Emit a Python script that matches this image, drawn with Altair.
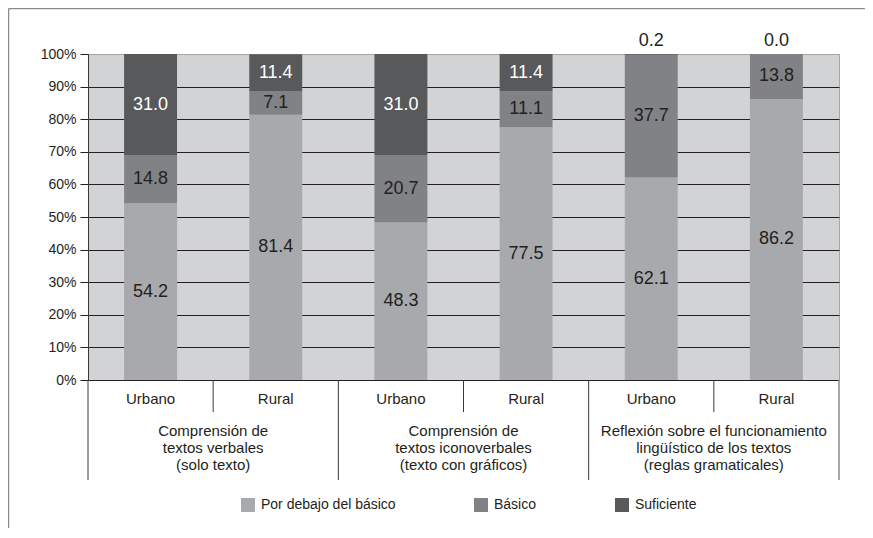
import altair as alt
import pandas as pd

# ---- data ----
groups = [
    "Comprensión de\ntextos verbales\n(solo texto)",
    "Comprensión de\ntextos iconoverbales\n(texto con gráficos)",
    "Reflexión sobre el funcionamiento\nlingüístico de los textos\n(reglas gramaticales)",
]
areas = ["Urbano", "Rural", "Urbano", "Rural", "Urbano", "Rural"]
group_of_bar = [0, 0, 1, 1, 2, 2]
por_debajo = [54.2, 81.4, 48.3, 77.5, 62.1, 86.2]
basico = [14.8, 7.1, 20.7, 11.1, 37.7, 13.8]
suficiente = [31.0, 11.4, 31.0, 11.4, 0.2, 0.0]
levels = ["Por debajo del básico", "Básico", "Suficiente"]
level_colors = ["#a7a9ac", "#808285", "#58595b"]
label_colors = ["#231f20", "#231f20", "#ffffff"]
y_ticks = [0, 10, 20, 30, 40, 50, 60, 70, 80, 90, 100]

FONT = "Liberation Sans"
W, H = 751, 326

# ---- tables ----
keys = [f"{g}-{a}" for g, a in zip(group_of_bar, areas)]
rows = []
for i, k in enumerate(keys):
    start = 0.0
    for lv, vals, lc in zip(levels, [por_debajo, basico, suficiente], label_colors):
        v = vals[i]
        rows.append(dict(key=k, level=lv, order=levels.index(lv), value=v,
                         y0=start, y1=start + v, ymid=start + v / 2, lcolor=lc))
        start += v
df = pd.DataFrame(rows)
cat_df = pd.DataFrame({"key": keys, "area": areas})
grp_df = pd.DataFrame({"pos": [2 * i + 1 for i in range(len(groups))], "label": groups})
inner_div = pd.DataFrame({"pos": [2 * i + 1 for i in range(len(groups))]})
outer_div = pd.DataFrame({"pos": [2 * i for i in range(len(groups))]})
right_div = pd.DataFrame({"pos": [2 * len(groups)]})

xband = alt.X("key:N", sort=keys, axis=None,
              scale=alt.Scale(domain=keys, paddingInner=0.577, paddingOuter=0.2885))
xslot = alt.X("pos:Q", axis=None, scale=alt.Scale(domain=[0, 2 * len(groups)], nice=False, zero=False))

yaxis = alt.Axis(values=y_ticks, labelExpr="datum.value + '%'", title=None,
                 grid=True, labelOverlap=False,
                 gridColor={"condition": {"test": "datum.value === 100", "value": "#a6a6a6"},
                            "value": "#231f20"},
                 gridWidth=1, domainColor="#3a3a3a", tickColor="#231f20", tickSize=8,
                 labelFontSize=14, labelFont=FONT, labelColor="#231f20", labelPadding=4)
yscale = alt.Scale(domain=[0, 100], nice=False)

bars = alt.Chart(df).mark_bar().encode(
    x=xband,
    y=alt.Y("y0:Q", scale=yscale, axis=yaxis),
    y2="y1:Q",
    color=alt.Color("level:N", scale=alt.Scale(domain=levels, range=level_colors),
                    legend=alt.Legend(title=None, orient="none", direction="horizontal",
                                      legendX=153, legendY=444, padding=0,
                                      symbolType="square", symbolSize=196,
                                      symbolStrokeWidth=0, labelFontSize=14,
                                      labelFont=FONT, labelColor="#231f20",
                                      labelOffset=6, columnPadding=78)),
    order="order:Q",
)

labels_in = alt.Chart(df).transform_filter("datum.value >= 1").mark_text(
    font=FONT, fontSize=18, baseline="middle", align="center"
).encode(
    x=xband,
    y=alt.Y("ymid:Q", scale=yscale, axis=yaxis),
    text=alt.Text("value:Q", format=".1f"),
    color=alt.Color("lcolor:N", scale=None),
)

labels_top = alt.Chart(df).transform_filter("datum.value < 1").mark_text(
    font=FONT, fontSize=18, baseline="middle", align="center", dy=-13, color="#231f20"
).encode(
    x=xband,
    y=alt.Y("y1:Q", scale=yscale, axis=yaxis),
    text=alt.Text("value:Q", format=".1f"),
)

cat_labels = alt.Chart(cat_df).mark_text(
    font=FONT, fontSize=15, color="#231f20", baseline="middle"
).encode(x=xband, y=alt.value(H + 19), text="area:N")

grp_labels = alt.Chart(grp_df).mark_text(
    font=FONT, fontSize=15, color="#231f20", baseline="middle", lineBreak="\n", lineHeight=17
).encode(x=xslot, y=alt.value(H + 51), text="label:N")

div_inner = alt.Chart(inner_div).mark_rule(color="#3a3a3a", strokeWidth=1).encode(
    x=xslot, y=alt.value(H), y2=alt.value(H + 32))
div_outer = alt.Chart(outer_div).mark_rule(color="#3a3a3a", strokeWidth=1).encode(
    x=xslot, y=alt.value(H), y2=alt.value(H + 100))
div_right = alt.Chart(right_div).mark_rule(color="#8c8c8c", strokeWidth=1.5).encode(
    x=xslot, y=alt.value(H), y2=alt.value(H + 100))

frame_top = alt.Chart(right_div).mark_rule(color="#8c8c8c", strokeWidth=1.5).encode(
    x=alt.value(-79.5), x2=alt.value(W + 26), y=alt.value(-45.5))
frame_left = alt.Chart(right_div).mark_rule(color="#8c8c8c", strokeWidth=1.5).encode(
    x=alt.value(-79.5), y=alt.value(-45.5), y2=alt.value(H + 150))

chart = alt.layer(
    bars, labels_in, labels_top, cat_labels, grp_labels,
    div_inner, div_outer, div_right, frame_top, frame_left
).resolve_scale(x="independent").properties(
    width=W, height=H,
    autosize=alt.AutoSizeParams(type="none"),
    padding={"left": 80, "top": 46, "right": 26, "bottom": 148},
    background="#ffffff",
).configure_view(fill="#d1d3d4", stroke="#a6a6a6")

chart.save("out.html", embed_options={"renderer": "svg", "actions": False})
